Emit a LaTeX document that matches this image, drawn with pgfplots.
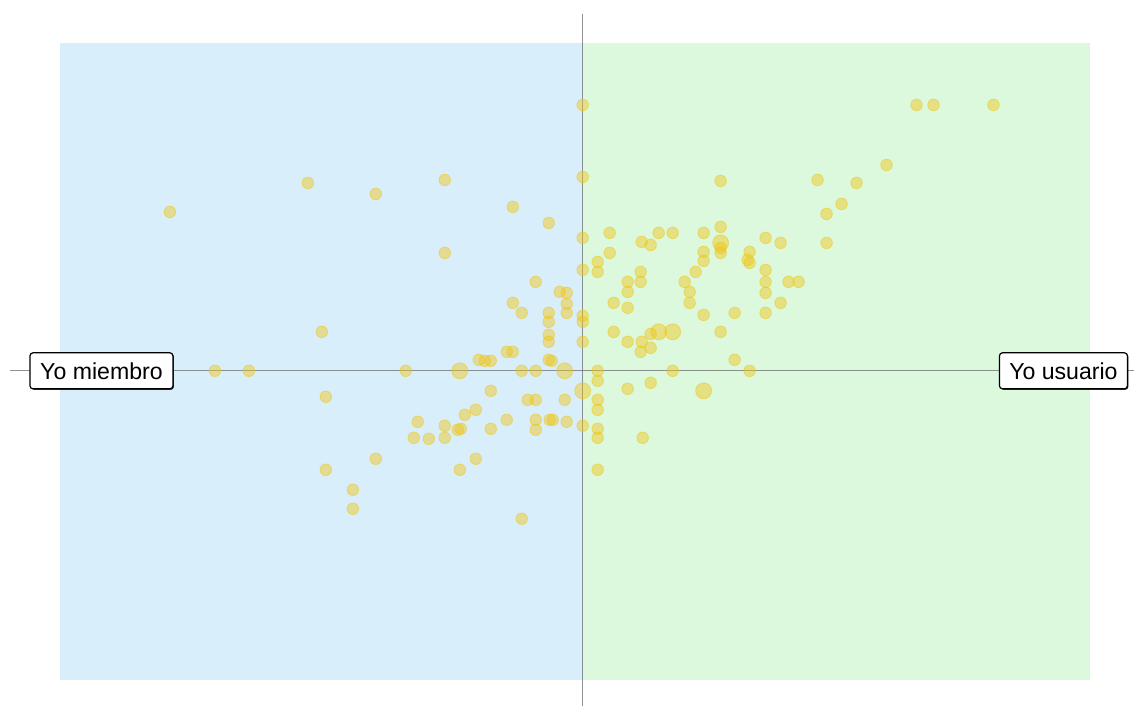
\documentclass[border=0pt]{standalone}
\usepackage{pgfplots}
\pgfplotsset{compat=1.18}
\usepackage{pgfplotstable}
\usepackage{fontspec}
\setmainfont{Liberation Sans}
\usetikzlibrary{shadows}

\definecolor{bgblue}{RGB}{217,238,251}
\definecolor{bggreen}{RGB}{220,248,221}
\definecolor{dotfill}{RGB}{240,198,20}
\definecolor{crossline}{RGB}{110,110,110}

% pixel positions (x right, y down)
\pgfplotstableread{
x y
170 212
308 183
376 194
445 180
445 253
513 207
549 223
583 105
583 177
583 238
583 270
536 282
560 292
567 293
567 304
567 313
513 303
522 313
549 313
549 322
549 335
549 342
583 316
583 322
583 342
322 332
507 352
513 352
479 360
485 361
491 361
549 360
552 361
215 371
249 371
406 371
522 371
536 371
598 371
598 381
326 397
491 391
528 400
536 400
565 400
598 400
598 410
476 410
465 415
418 422
445 426
461 429
458 430
445 438
414 438
429 439
491 429
507 420
536 420
550 420
553 420
567 422
536 430
583 426
598 429
598 438
643 438
376 459
476 459
326 470
460 470
598 470
353 490
353 509
522 519
610 233
659 233
673 233
704 233
721 227
721 181
642 242
651 245
721 248
721 253
610 253
704 252
704 261
598 262
598 272
641 272
641 282
628 282
628 292
696 272
685 282
690 292
690 303
614 303
628 308
614 332
628 342
642 342
641 352
651 334
651 348
704 315
721 332
735 313
735 360
628 389
651 383
673 371
750 371
750 252
748 260
750 263
766 238
781 243
766 270
766 282
766 293
789 282
799 282
781 303
766 313
827 214
827 243
842 204
818 180
857 183
887 165
917 105
934 105
994 105
}\dotsmall

\pgfplotstableread{
x y
460 371
565 371
583 391
704 391
721 243
659 332
673 332
}\dotbig

\begin{document}
\begin{tikzpicture}
\begin{axis}[
  scale only axis,
  width=567.5bp, height=353bp,
  xmin=0, xmax=1135, ymin=0, ymax=706,
  y dir=reverse,
  hide axis,
  clip=false,
]
\path (axis cs:0,0) rectangle (axis cs:1135,706);
% quadrant backgrounds
\addplot[draw=none, fill=bgblue] coordinates {(60,43) (583,43) (583,680) (60,680)} -- cycle;
\addplot[draw=none, fill=bggreen] coordinates {(583,43) (1091,43) (1091,680) (583,680)} -- cycle;
% cross
\addplot[crossline, line width=0.6bp, opacity=0.75] coordinates {(10,371) (1135,371)};
\addplot[crossline, line width=0.6bp, opacity=0.75] coordinates {(583,14) (583,706)};
% points
\addplot[only marks, mark=*, mark size=2.9bp,
  mark options={fill=dotfill, fill opacity=0.45, draw=dotfill, draw opacity=0.5, line width=0.4bp}]
  table {\dotsmall};
\addplot[only marks, mark=*, mark size=4bp,
  mark options={fill=dotfill, fill opacity=0.45, draw=dotfill, draw opacity=0.5, line width=0.4bp}]
  table {\dotbig};
% pole labels
\node[draw=black, fill=white, rounded corners=1.5bp, line width=0.6bp,
  drop shadow={shadow xshift=0.5bp, shadow yshift=-0.5bp, fill=black, opacity=0.8},
  minimum width=71.5bp, minimum height=18bp, inner sep=0pt,
  font=\fontsize{11.6}{13}\selectfont] at (axis cs:101.5,371) {Yo miembro};
\node[draw=black, fill=white, rounded corners=1.5bp, line width=0.6bp,
  drop shadow={shadow xshift=0.5bp, shadow yshift=-0.5bp, fill=black, opacity=0.8},
  minimum width=64bp, minimum height=18bp, inner sep=0pt,
  font=\fontsize{11.6}{13}\selectfont] at (axis cs:1064,371) {Yo usuario};
\end{axis}
\end{tikzpicture}
\end{document}
